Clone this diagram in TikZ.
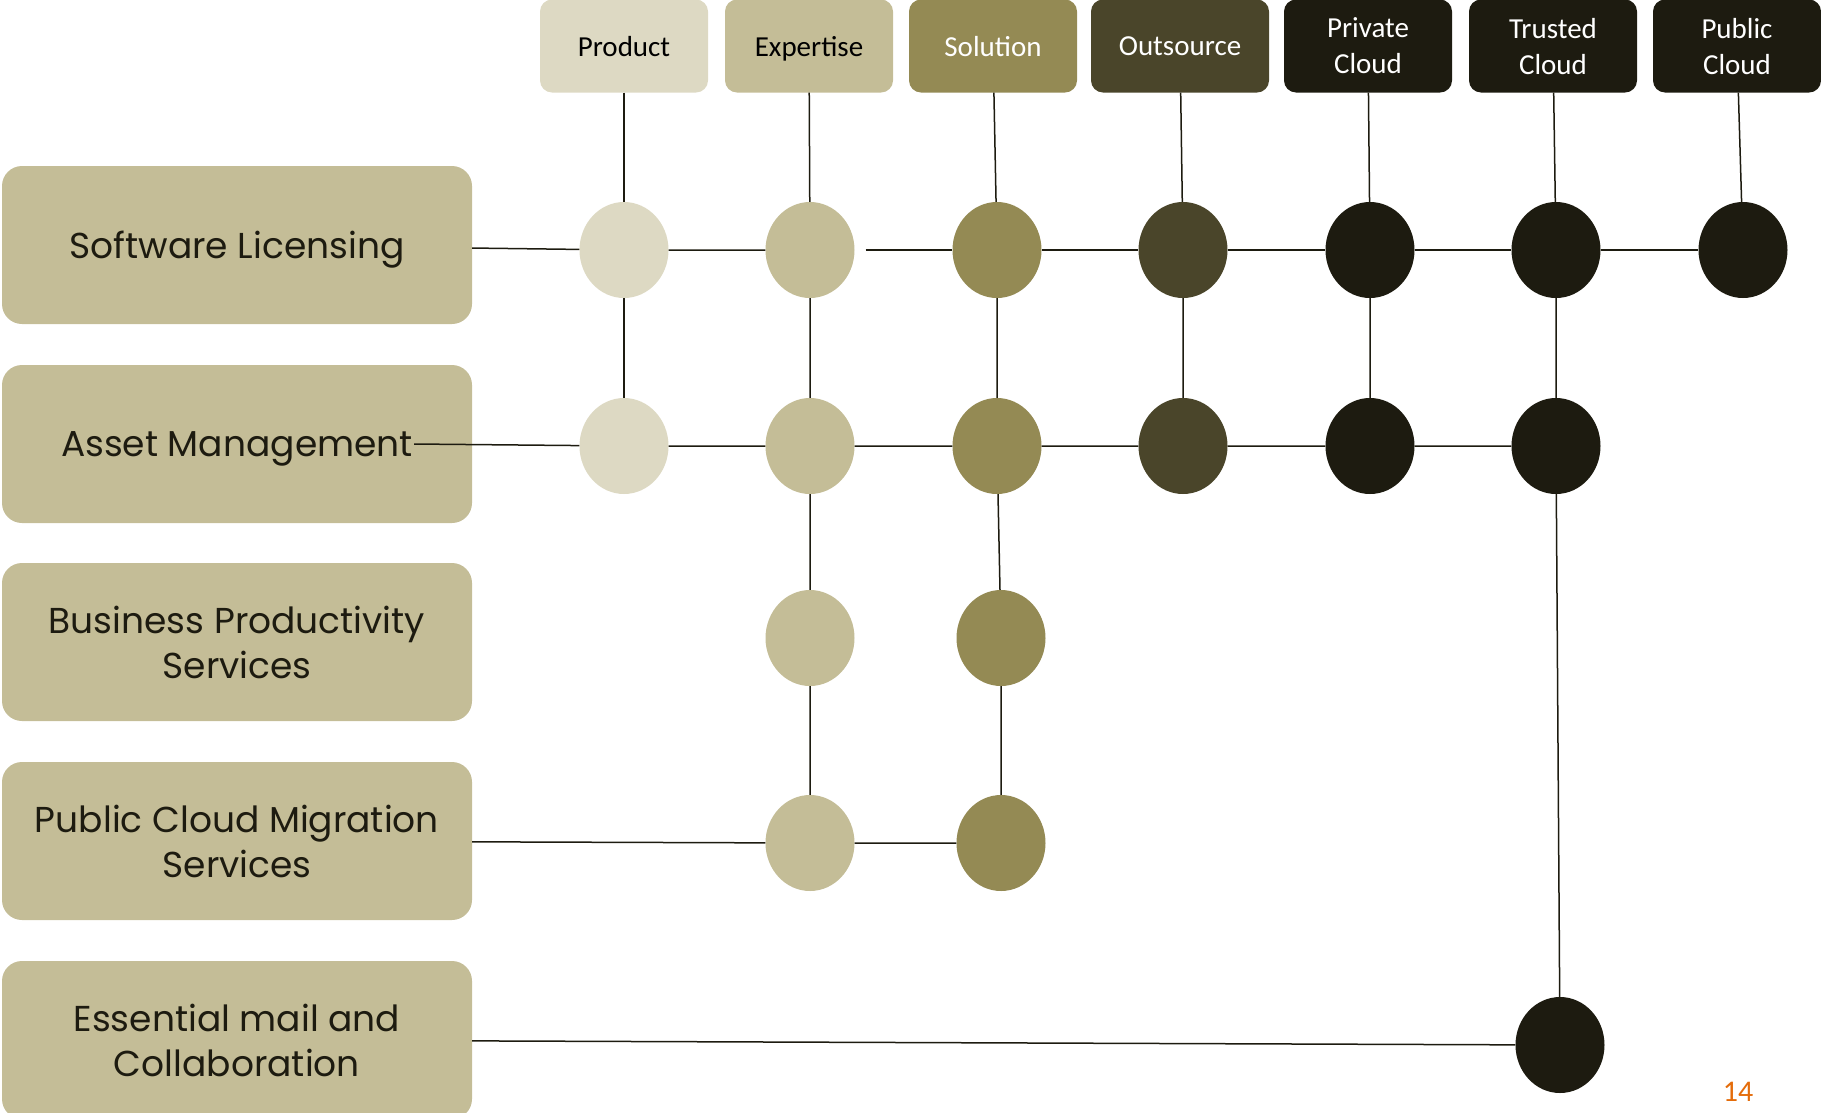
\documentclass[tikz,border=0pt]{standalone}
\usepackage{fontspec}
\setmainfont{Poppins}
\newfontfamily\hdrfont{Carlito}
\usetikzlibrary{shapes.geometric}
\definecolor{tanlight}{HTML}{DDD9C3}
\definecolor{tanmid}{HTML}{C4BD97}
\definecolor{olive}{HTML}{948A54}
\definecolor{olivedark}{HTML}{4A452A}
\definecolor{nearblack}{HTML}{1D1B10}
\definecolor{pageorange}{HTML}{E46C0A}

\begin{document}
\begin{tikzpicture}[x=1pt, y=-1pt,
  hdr/.style={rounded corners=12pt, minimum width=168pt, minimum height=93pt, inner sep=0pt, text depth=0pt, align=center, font=\hdrfont\fontsize{29}{36}\selectfont},
  lbl/.style={fill=tanmid, rounded corners=20pt, minimum width=470pt, minimum height=158pt, text depth=0pt, align=center, text=nearblack, font=\fontsize{36}{45}\selectfont},
  dot/.style={ellipse, minimum width=89pt, minimum height=96pt, inner sep=0pt},
  link/.style={draw=nearblack, line width=1.5pt}]
\useasboundingbox (0,0) rectangle (1821,1112);

% delivery models along the top
\node[hdr, fill=tanlight] (hProd) at (624,46) {Product};
\node[hdr, fill=tanmid] (hExp) at (809,46) {Expertise};
\node[hdr, fill=olive, text=white] (hSol) at (993,46) {Solution};
\node[hdr, fill=olivedark, text=white, minimum width=178pt] (hOut) at (1180,46) {Outsource};
\node[hdr, fill=nearblack, text=white] (hPriv) at (1368,46) {Private\\Cloud};
\node[hdr, fill=nearblack, text=white] (hTrust) at (1553,46) {Trusted\\Cloud};
\node[hdr, fill=nearblack, text=white] (hPub) at (1737,46) {Public\\Cloud};

% service lines on the left
\node[lbl] (rSoft) at (237,245) {Software Licensing};
\node[lbl] (rAsset) at (237,444) {Asset Management};
\node[lbl] (rBiz) at (237,642) {Business Productivity\\Services};
\node[lbl] (rMig) at (237,841) {Public Cloud Migration\\Services};
\node[lbl] (rMail) at (237,1040) {Essential mail and\\Collaboration};

% offering dots
\node[dot, fill=tanlight] (p1) at (624,250) {};
\node[dot, fill=tanlight] (p2) at (624,446) {};
\node[dot, fill=tanmid] (e1) at (810,250) {};
\node[dot, fill=tanmid] (e2) at (810,446) {};
\node[dot, fill=tanmid] (e3) at (810,638) {};
\node[dot, fill=tanmid] (e4) at (810,843) {};
\node[dot, fill=olive] (s1) at (997,250) {};
\node[dot, fill=olive] (s2) at (997,446) {};
\node[dot, fill=olive] (s3) at (1001,638) {};
\node[dot, fill=olive] (s4) at (1001,843) {};
\node[dot, fill=olivedark] (o1) at (1183,250) {};
\node[dot, fill=olivedark] (o2) at (1183,446) {};
\node[dot, fill=nearblack] (v1) at (1370,250) {};
\node[dot, fill=nearblack] (v2) at (1370,446) {};
\node[dot, fill=nearblack] (t1) at (1556,250) {};
\node[dot, fill=nearblack] (t2) at (1556,446) {};
\node[dot, fill=nearblack] (t5) at (1560,1045) {};
\node[dot, fill=nearblack] (u1) at (1743,250) {};

% columns
\draw[link] (hProd) -- (p1) -- (p2);
\draw[link] (hExp) -- (e1) -- (e2) -- (e3) -- (e4);
\draw[link] (hSol) -- (s1) -- (s2) -- (s3) -- (s4);
\draw[link] (hOut) -- (o1) -- (o2);
\draw[link] (hPriv) -- (v1) -- (v2);
\draw[link] (hTrust) -- (t1) -- (t2) -- (t5);
\draw[link] (hPub) -- (u1);

% rows
\draw[link] (rSoft) -- (p1) -- (e1);
\draw[link, line width=2.6pt, shorten <=11pt] (e1) -- (s1);
\draw[link] (s1) -- (o1) -- (v1) -- (t1) -- (u1);
\draw[link] ([xshift=-58pt]rAsset.east) -- (p2) -- (e2) -- (s2) -- (o2) -- (v2) -- (t2);
\draw[link] (rMig) -- (e4) -- (s4);
\draw[link] (rMail) -- (t5);

\node[font=\hdrfont\fontsize{30}{36}\selectfont, text=pageorange] (pgNum) at (1738,1092) {14};
\end{tikzpicture}
\end{document}
